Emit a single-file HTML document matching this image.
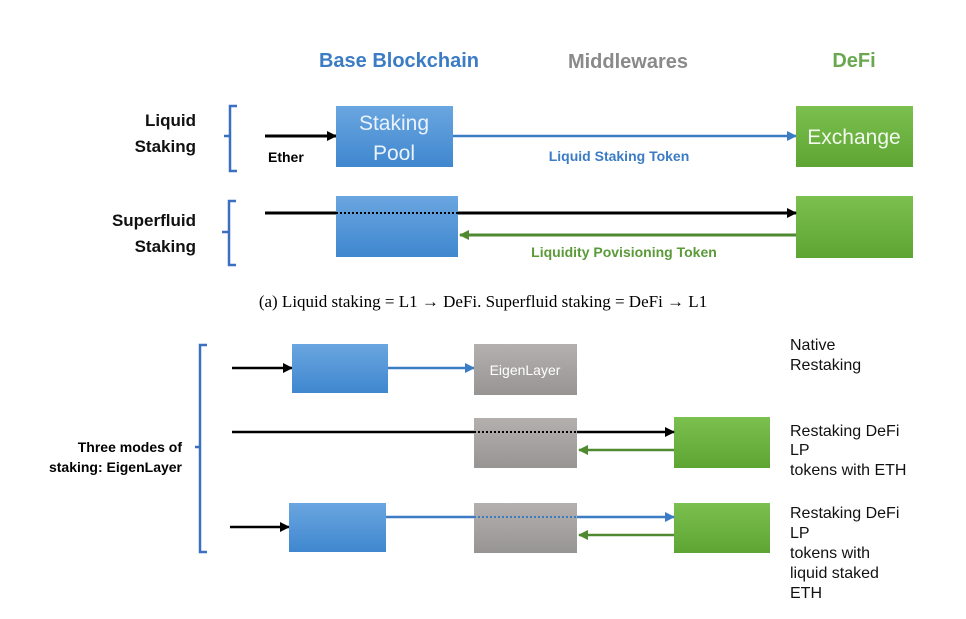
<!DOCTYPE html>
<html><head><style>
body{margin:0;background:#fff;}
svg{display:block;}
.b{font-family:"Liberation Sans",sans-serif;font-weight:bold;}
.r{font-family:"Liberation Sans",sans-serif;}
</style></head><body>
<svg width="966" height="619" viewBox="0 0 966 619" xmlns="http://www.w3.org/2000/svg">
<defs>
<linearGradient id="gb" x1="0" y1="0" x2="0" y2="1"><stop offset="0" stop-color="#6aa6e0"/><stop offset="1" stop-color="#3f87cf"/></linearGradient>
<linearGradient id="gg" x1="0" y1="0" x2="0" y2="1"><stop offset="0" stop-color="#7cc04f"/><stop offset="1" stop-color="#5da533"/></linearGradient>
<linearGradient id="gy" x1="0" y1="0" x2="0" y2="1"><stop offset="0" stop-color="#b3b0ae"/><stop offset="1" stop-color="#979594"/></linearGradient>
<marker id="ak" markerWidth="10" markerHeight="10" refX="9" refY="5" orient="auto" markerUnits="userSpaceOnUse"><path d="M0,0 L10,5 L0,10 z" fill="#000"/></marker>
<marker id="ab" markerWidth="10" markerHeight="10" refX="9" refY="5" orient="auto" markerUnits="userSpaceOnUse"><path d="M0,0 L10,5 L0,10 z" fill="#3b7cc4"/></marker>
<marker id="ag" markerWidth="10" markerHeight="10" refX="9" refY="5" orient="auto" markerUnits="userSpaceOnUse"><path d="M0,0 L10,5 L0,10 z" fill="#4f8a30"/></marker>
</defs>
<g class="b" font-size="20" text-anchor="middle">
<text x="399" y="67" fill="#3b7cc4">Base Blockchain</text>
<text x="628" y="68" fill="#8a8a8a">Middlewares</text>
<text x="854" y="67" fill="#6aa84f">DeFi</text>
</g>
<g class="b" font-size="17" text-anchor="end" fill="#111">
<text x="196" y="126">Liquid</text><text x="196" y="152">Staking</text>
<text x="196" y="226">Superfluid</text><text x="196" y="252">Staking</text>
</g>
<g fill="none" stroke="#3b6fc0" stroke-width="2.5">
<path d="M237,106 H230 V136 H224 M230,136 V171 H237"/>
<path d="M236,201 H229 V232 H222 M229,232 V265 H236"/>
<path d="M207,345 H200 V447 H195 M200,447 V552 H207"/>
</g>
<line x1="265" y1="136" x2="336" y2="136" stroke="#000" stroke-width="3" marker-end="url(#ak)"/>
<text x="268" y="162" class="b" font-size="14">Ether</text>
<rect x="336" y="106" width="117" height="61" fill="url(#gb)"/>
<text x="394" y="130" class="r" font-size="21" fill="#eaf2fb" text-anchor="middle">Staking</text>
<text x="394" y="160" class="r" font-size="21" fill="#eaf2fb" text-anchor="middle">Pool</text>
<line x1="453" y1="136" x2="796" y2="136" stroke="#3b7cc4" stroke-width="2.5" marker-end="url(#ab)"/>
<text x="619" y="161" class="b" font-size="14" fill="#3b7cc4" text-anchor="middle">Liquid Staking Token</text>
<rect x="796" y="106" width="117" height="61" fill="url(#gg)"/>
<text x="854" y="144" class="r" font-size="21" fill="#f2f8ee" text-anchor="middle">Exchange</text>
<rect x="336" y="196" width="122" height="61" fill="url(#gb)"/>
<rect x="796" y="196" width="117" height="62" fill="url(#gg)"/>
<line x1="265" y1="213" x2="336" y2="213" stroke="#000" stroke-width="3"/>
<line x1="336" y1="213" x2="458" y2="213" stroke="#000" stroke-width="2" stroke-dasharray="2,2"/>
<line x1="458" y1="213" x2="796" y2="213" stroke="#000" stroke-width="3" marker-end="url(#ak)"/>
<line x1="796" y1="235" x2="460" y2="235" stroke="#4f8a30" stroke-width="3" marker-end="url(#ag)"/>
<text x="624" y="257" class="b" font-size="14" fill="#5a9a38" text-anchor="middle">Liquidity Povisioning Token</text>
<text x="483" y="307" font-family="Liberation Serif,serif" font-size="17" text-anchor="middle">(a) Liquid staking = L1 → DeFi. Superfluid staking = DeFi → L1</text>
<text x="182" y="452" class="b" font-size="14" text-anchor="end">Three modes of</text>
<text x="182" y="472" class="b" font-size="14" text-anchor="end">staking: EigenLayer</text>
<line x1="232" y1="368" x2="292" y2="368" stroke="#000" stroke-width="2.5" marker-end="url(#ak)"/>
<rect x="292" y="344" width="96" height="49" fill="url(#gb)"/>
<line x1="388" y1="368" x2="474" y2="368" stroke="#3b7cc4" stroke-width="2.5" marker-end="url(#ab)"/>
<rect x="474" y="344" width="103" height="51" fill="url(#gy)"/>
<text x="525" y="375" class="r" font-size="14" fill="#fff" text-anchor="middle">EigenLayer</text>
<rect x="474" y="418" width="103" height="50" fill="url(#gy)"/>
<rect x="674" y="417" width="96" height="51" fill="url(#gg)"/>
<line x1="232" y1="432" x2="474" y2="432" stroke="#000" stroke-width="2.5"/>
<line x1="474" y1="432" x2="577" y2="432" stroke="#000" stroke-width="2" stroke-dasharray="2,2"/>
<line x1="577" y1="432" x2="674" y2="432" stroke="#000" stroke-width="2.5" marker-end="url(#ak)"/>
<line x1="674" y1="450" x2="579" y2="450" stroke="#4f8a30" stroke-width="2.5" marker-end="url(#ag)"/>
<line x1="230" y1="527" x2="289" y2="527" stroke="#000" stroke-width="2.5" marker-end="url(#ak)"/>
<rect x="289" y="503" width="97" height="49" fill="url(#gb)"/>
<rect x="474" y="503" width="103" height="50" fill="url(#gy)"/>
<rect x="674" y="503" width="96" height="50" fill="url(#gg)"/>
<line x1="386" y1="517" x2="474" y2="517" stroke="#3b7cc4" stroke-width="2.5"/>
<line x1="474" y1="517" x2="577" y2="517" stroke="#3b7cc4" stroke-width="2" stroke-dasharray="2,2"/>
<line x1="577" y1="517" x2="674" y2="517" stroke="#3b7cc4" stroke-width="2.5" marker-end="url(#ab)"/>
<line x1="674" y1="535" x2="579" y2="535" stroke="#4f8a30" stroke-width="2.5" marker-end="url(#ag)"/>
<g class="r" font-size="16" fill="#111">
<text x="790" y="350">Native</text><text x="790" y="370">Restaking</text>
<text x="790" y="436">Restaking DeFi</text><text x="790" y="455">LP</text><text x="790" y="475">tokens with ETH</text>
<text x="790" y="518">Restaking DeFi</text><text x="790" y="538">LP</text><text x="790" y="558">tokens with</text><text x="790" y="578">liquid staked</text><text x="790" y="598">ETH</text>
</g>
</svg>
</body></html>
